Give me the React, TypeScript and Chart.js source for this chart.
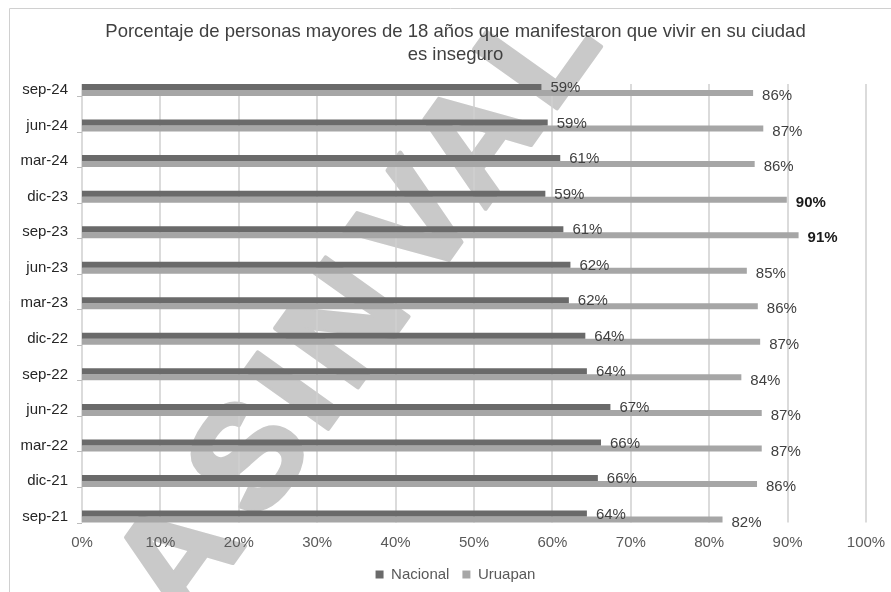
import React, { useEffect, useRef } from 'react';
import { Chart, registerables } from 'chart.js';

Chart.register(...registerables);

const categories = ['sep-24', 'jun-24', 'mar-24', 'dic-23', 'sep-23', 'jun-23', 'mar-23', 'dic-22', 'sep-22', 'jun-22', 'mar-22', 'dic-21', 'sep-21'];
const nacional = [58.6, 59.4, 61.0, 59.1, 61.4, 62.3, 62.1, 64.2, 64.4, 67.4, 66.2, 65.8, 64.4];
const uruapan = [85.6, 86.9, 85.8, 89.9, 91.4, 84.8, 86.2, 86.5, 84.1, 86.7, 86.7, 86.1, 81.7];
const xTickValues = [0, 10, 20, 30, 40, 50, 60, 70, 80, 90, 100];
const seriesNames = ['Nacional', 'Uruapan'];
const titleLines = ['Porcentaje de personas mayores de 18 años que manifestaron que vivir en su ciudad', 'es inseguro'];
const watermarkText = 'A SIN VAL';

const FONT = "'Liberation Sans', Arial, sans-serif";

const decorPlugin = {
  id: 'decor',
  beforeDraw(chart: any) {
    const ctx = chart.ctx as CanvasRenderingContext2D;
    ctx.save();
    ctx.strokeStyle = '#d0d0d0';
    ctx.lineWidth = 1;
    ctx.beginPath();
    ctx.moveTo(9.5, chart.height);
    ctx.lineTo(9.5, 8.5);
    ctx.lineTo(chart.width, 8.5);
    ctx.stroke();
    ctx.restore();

    ctx.save();
    ctx.translate(142, 599);
    ctx.rotate((-54.5 * Math.PI) / 180);
    ctx.font = `bold 148px ${FONT}`;
    (ctx as any).letterSpacing = '10px';
    (ctx as any).wordSpacing = '-40px';
    ctx.fillStyle = '#c9c9c9';
    ctx.strokeStyle = '#c9c9c9';
    ctx.lineWidth = 4;
    ctx.lineJoin = 'round';
    ctx.textAlign = 'left';
    ctx.textBaseline = 'alphabetic';
    ctx.strokeText(watermarkText, 0, 53);
    ctx.fillText(watermarkText, 0, 53);
    ctx.restore();
  },
  beforeDatasetsDraw(chart: any) {
    const ctx = chart.ctx as CanvasRenderingContext2D;
    const xs = chart.scales.x;
    const m0 = chart.getDatasetMeta(0).data;
    const m1 = chart.getDatasetMeta(1).data;
    if (!m0.length || !m1.length) return;
    const top = m0[0].y - m0[0].height / 2;
    const last = m1[m1.length - 1];
    const bottom = last.y + last.height / 2;
    ctx.save();
    ctx.strokeStyle = '#cfcfcf';
    ctx.lineWidth = 1.5;
    xs.ticks.forEach((t: any) => {
      const px = Math.round(xs.getPixelForValue(t.value));
      ctx.beginPath();
      ctx.moveTo(px, top);
      ctx.lineTo(px, bottom);
      ctx.stroke();
    });
    ctx.strokeStyle = '#bdbdbd';
    ctx.lineWidth = 1;
    const left = Math.round(xs.getPixelForValue(0));
    m1.forEach((b: any) => {
      const y = Math.round(b.y + b.height / 2) + 0.5;
      ctx.beginPath();
      ctx.moveTo(left - 5, y);
      ctx.lineTo(left, y);
      ctx.stroke();
    });
    ctx.restore();
  },
  afterDatasetsDraw(chart: any) {
    const ctx = chart.ctx as CanvasRenderingContext2D;
    ctx.save();
    chart.data.datasets.forEach((ds: any, di: number) => {
      const meta = chart.getDatasetMeta(di);
      meta.data.forEach((bar: any, i: number) => {
        const r = Math.round(ds.data[i]);
        const bold = r >= 90;
        ctx.font = `${bold ? 'bold ' : ''}15px ${FONT}`;
        ctx.fillStyle = bold ? '#1a1a1a' : '#404040';
        ctx.textAlign = 'left';
        ctx.textBaseline = 'middle';
        ctx.fillText(r + '%', bar.x + 9, bar.y + (di === 0 ? 1 : 3));
      });
    });
    ctx.restore();
  },
};

export default function App() {
  const ref = useRef<HTMLCanvasElement | null>(null);
  useEffect(() => {
    if (!ref.current) return;
    const chart = new Chart(ref.current, {
      type: 'bar',
      data: {
        labels: categories,
        datasets: [
          { label: seriesNames[0], data: nacional, backgroundColor: '#6a6a6a', borderWidth: 0 },
          { label: seriesNames[1], data: uruapan, backgroundColor: '#a6a6a6', borderWidth: 0 },
        ],
      },
      options: {
        indexAxis: 'y',
        responsive: false,
        animation: false,
        events: [],
        layout: { padding: { left: 20, right: 0, top: 0, bottom: 0 } },
        datasets: { bar: { categoryPercentage: 0.338, barPercentage: 1 } } as any,
        plugins: {
          title: {
            display: true,
            text: titleLines,
            color: '#404040',
            font: { family: FONT, size: 18.5, weight: 'normal', lineHeight: '23px' } as any,
            padding: { top: 20, bottom: 6.25 },
          },
          legend: {
            position: 'bottom',
            labels: {
              boxWidth: 8,
              boxHeight: 8,
              color: '#595959',
              font: { family: FONT, size: 15 },
              padding: 13,
            },
          },
          tooltip: { enabled: false },
        },
        scales: {
          x: {
            min: 0,
            max: 100,
            afterBuildTicks: (s: any) => {
              s.ticks = xTickValues.map((v) => ({ value: v }));
            },
            afterFit: (s: any) => {
              const lh = s.chart.legend ? s.chart.legend.height : 38;
              s.height = 592 - 534.3 - lh;
            },
            ticks: {
              callback: (v: any) => v + '%',
              color: '#595959',
              font: { family: FONT, size: 15 },
              padding: 0,
              maxRotation: 0,
              autoSkip: false,
            },
            grid: { display: false, drawTicks: false },
            border: { display: false },
          },
          y: {
            ticks: { color: '#262626', font: { family: FONT, size: 15 }, padding: 14 },
            grid: { display: false, drawTicks: false },
            border: { display: false },
            afterFit: (s: any) => {
              s.width = 62;
            },
          },
          yRight: {
            type: 'category',
            position: 'right',
            display: true,
            ticks: { display: false },
            grid: { display: false, drawTicks: false },
            border: { display: false },
            afterFit: (s: any) => {
              s.width = 25;
            },
          } as any,
        },
      },
      plugins: [decorPlugin],
    });
    return () => chart.destroy();
  }, []);
  return (
    <canvas
      ref={ref}
      width={891}
      height={592}
      style={{ position: 'fixed', left: 0, top: 0, width: 891, height: 592, display: 'block', background: '#ffffff' }}
    />
  );
}
